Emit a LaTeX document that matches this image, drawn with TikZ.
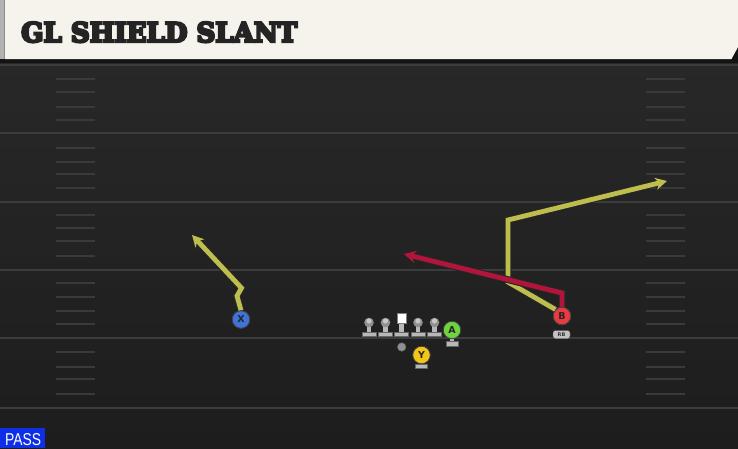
\documentclass[tikz,border=0pt]{standalone}
\usepackage{fontspec}
\setmainfont{DejaVu Sans}
\newfontfamily\titlefont{DejaVu Serif}
\newfontfamily\passfont{Liberation Sans}
\usetikzlibrary{arrows.meta}
\definecolor{cream}{HTML}{F5F3EC}
\definecolor{fieldtop}{HTML}{282828}
\definecolor{fieldbot}{HTML}{1D1D1D}
\definecolor{yardcol}{HTML}{3C3C3C}
\definecolor{hashcol}{HTML}{3A3A3A}
\definecolor{routeY}{HTML}{BDBE4E}
\definecolor{routeR}{HTML}{B3143B}
\definecolor{plX}{HTML}{3F73DA}
\definecolor{plA}{HTML}{6FD23F}
\definecolor{plY}{HTML}{F2C619}
\definecolor{plB}{HTML}{E83A43}
\definecolor{lmgray}{HTML}{B8B8B8}
\definecolor{lmhead}{HTML}{909090}
\definecolor{passblue}{HTML}{0E2FE6}
\definecolor{titlecol}{HTML}{242424}
\newcommand\drawroute[2]{%
  \draw[routeouter] #2;
  \draw[routeinner,draw=#1] #2;}
\newcommand\heavytext[1]{\special{pdf:literal direct 2 Tr 0.9 w 0.141 0.141 0.141 RG}#1\special{pdf:literal direct 0 Tr}}
\tikzset{
  yardline/.style={draw=yardcol, line width=2pt},
  hashmark/.style={draw=hashcol, line width=1.6pt},
  routeouter/.style={draw=black!85, line width=7pt, line join=miter,
    -{Stealth[length=14pt,width=15pt,inset=4.5pt]}},
  routeinner/.style={line width=4.8pt, line join=miter,
    -{Stealth[length=11.5pt,width=12pt,inset=3.5pt]}},
  player/.style={circle, minimum size=17.5pt, inner sep=0pt, draw=black!75,
    line width=0.8pt, text=black!85,
    font=\bfseries\fontsize{9.5}{9.5}\selectfont},
  qbdot/.style={circle, minimum size=8.5pt, inner sep=0pt, fill=lmhead, draw=black!60, line width=0.5pt},
  rbtag/.style={rounded corners=2.5pt, fill=lmgray!85!white, draw=black!60, line width=0.4pt,
    minimum width=17pt, minimum height=8pt, inner sep=0pt, text=black!80,
    font=\bfseries\fontsize{5}{5}\selectfont},
  lineman/.pic={
    \fill[lmgray] (-2.2,0) rectangle (2.2,10);
    \filldraw[fill=lmgray, draw=black!60, line width=0.5pt] (-6.8,9.5) rectangle (6.8,14);
    \fill[lmhead] (0,0) circle (4.8);
    \fill[lmgray!80!white] (0,-1.5) circle (2.6);
  },
  centerman/.pic={
    \fill[lmgray] (-2.2,5) rectangle (2.2,15);
    \filldraw[fill=lmgray, draw=black!60, line width=0.5pt] (-6.8,14) rectangle (6.8,18.5);
    \filldraw[fill=white, draw=black!50, line width=0.4pt] (-4.8,-5) rectangle (4.8,5);
  },
  basetag/.pic={
    \fill[lmgray] (-2.2,0) rectangle (2.2,6);
    \filldraw[fill=lmgray, draw=black!60, line width=0.5pt] (-5.8,5.5) rectangle (5.8,10);
  }
}
\begin{document}
\begin{tikzpicture}[x=1pt,y=-1pt]
\useasboundingbox (0,0) rectangle (738,448);
% field
\shade[top color=fieldtop, bottom color=fieldbot] (0,58) rectangle (738,448);
% header
\fill[black!92] (0,40) rectangle (738,62.5);
\fill[cream] (5,0) -- (738,0) -- (738,47) -- (731.5,59) -- (5,59) -- cycle;
\fill[black!30] (0,0) rectangle (5,59);
\fill[black!45] (3.5,0) rectangle (5,59);
\node[anchor=base west, inner sep=0pt, text=titlecol] (title) at (21,42)
  {\resizebox{276pt}{20pt}{\titlefont\bfseries\heavytext{GL SHIELD SLANT}}};
% yard lines
\foreach \yy in {65,133,202,270,338,408}
  \draw[yardline] (0,\yy) -- (738,\yy);
% hash marks
\foreach \yy in {79,92,107,120,148,162,174,188,215,228,241,256,283,297,311,324,352,367,379,394} {
  \draw[hashmark] (56,\yy) -- (95,\yy);
  \draw[hashmark] (646,\yy) -- (685,\yy);
}
% players
\node[player, fill=plX] (X) at (241,319.5) {X};
\node[player, fill=plB] (B) at (562,316) {B};
\node[rbtag] (RB) at (561.5,334.5) {RB};
\pic at (369,322.5) {lineman};
\pic at (385.5,322.5) {lineman};
\pic at (401.5,318) {centerman};
\pic at (418,322.5) {lineman};
\pic at (434.5,322.5) {lineman};
\pic at (452,336) {basetag};
\node[player, fill=plA] (A) at (452,330) {A};
\node[qbdot] (QB) at (401.7,347) {};
\pic at (421.5,358.5) {basetag};
\node[player, fill=plY] (Y) at (421.5,355) {Y};
% route waypoints
\coordinate (x1) at (237,296);
\coordinate (x2) at (241.5,288);
\coordinate (xt) at (192,235);
\coordinate (y1) at (508,282);
\coordinate (y2) at (508,220);
\coordinate (yt) at (667,181);
\coordinate (r1) at (562,293);
\coordinate (rt) at (404,254);
% routes
\drawroute{routeY}{(B.north west) -- (y1) -- (y2) -- (yt)}
\drawroute{routeR}{(B.north) -- (r1) -- (rt)}
\drawroute{routeY}{(X.north) -- (x1) -- (x2) -- (xt)}
% redraw players on top of route ends
\node[player, fill=plB] (B2) at (B) {B};
\node[player, fill=plX] (X2) at (X) {X};
% PASS label
\fill[passblue] (0,428) rectangle (45,448);
\node[anchor=base west, inner sep=0pt, text=white] (pass) at (5,445)
  {\resizebox{36pt}{12pt}{\passfont PASS}};
\end{tikzpicture}
\end{document}
